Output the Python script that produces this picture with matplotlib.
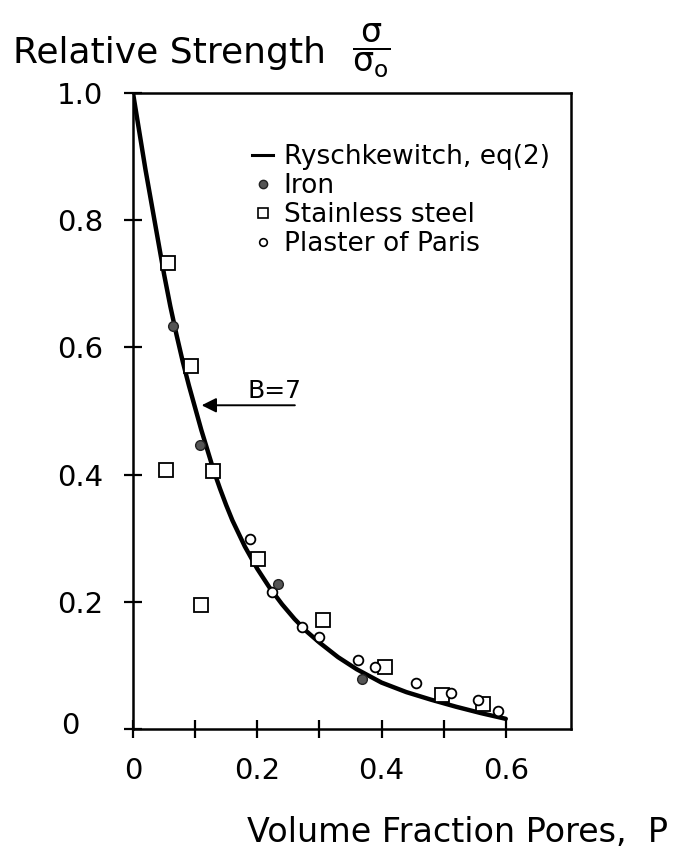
import matplotlib
matplotlib.use("Agg")
import matplotlib.pyplot as plt
from matplotlib.lines import Line2D
from matplotlib.transforms import ScaledTranslation

plt.rcParams['font.family'] = ['DejaVu Sans']

# Ryschkewitch curve (B = 7)
curve_p = [0, 0.01, 0.02, 0.03, 0.04, 0.05, 0.06, 0.07, 0.08, 0.09, 0.10, 0.11,
           0.12, 0.13, 0.14, 0.15, 0.16, 0.18, 0.20, 0.22, 0.24, 0.26, 0.28,
           0.30, 0.33, 0.36, 0.40, 0.44, 0.48, 0.52, 0.56, 0.60]
curve_s = [1.0, 0.94, 0.88, 0.825, 0.77, 0.715, 0.665, 0.62, 0.578, 0.54, 0.505,
           0.47, 0.438, 0.406, 0.378, 0.352, 0.328, 0.287, 0.252, 0.222, 0.196,
           0.173, 0.153, 0.136, 0.113, 0.094, 0.073, 0.058, 0.046, 0.035, 0.025,
           0.016]

# measured points
iron_p = [0.064, 0.108, 0.233, 0.368]
iron_s = [0.634, 0.447, 0.228, 0.079]

steel_p = [0.056, 0.093, 0.053, 0.128, 0.202, 0.109, 0.306, 0.406, 0.498, 0.563]
steel_s = [0.732, 0.571, 0.408, 0.405, 0.268, 0.195, 0.171, 0.098, 0.054, 0.040]

plaster_p = [0.188, 0.223, 0.272, 0.300, 0.362, 0.390, 0.455, 0.512, 0.555, 0.587]
plaster_s = [0.299, 0.216, 0.161, 0.144, 0.108, 0.098, 0.072, 0.056, 0.046, 0.028]

x_ticks = [0, 0.2, 0.4, 0.6]
x_labels = ["0", "0.2", "0.4", "0.6"]
x_minor = [0.1, 0.3, 0.5]
y_ticks = [0, 0.2, 0.4, 0.6, 0.8, 1.0]
y_labels = ["0", "0.2", "0.4", "0.6", "0.8", "1.0"]

legend_labels = ["Ryschkewitch, eq(2)", "Iron", "Stainless steel", "Plaster of Paris"]

fig = plt.figure(figsize=(6.83, 8.6), dpi=100)
ax = fig.add_axes([133 / 683, 131 / 860, 438 / 683, 636 / 860])

ax.plot(curve_p, curve_s, color='black', lw=3.2, solid_capstyle='round', zorder=2)
ax.plot(steel_p, steel_s, ls='none', marker='s', ms=9.5, mfc='white', mec='black',
        mew=1.3, zorder=3)
ax.plot(plaster_p, plaster_s, ls='none', marker='o', ms=7, mfc='white', mec='black',
        mew=1.3, zorder=3)
ax.plot(iron_p, iron_s, ls='none', marker='o', ms=7, mfc='#555555', mec='#222222',
        mew=1.0, zorder=4)

ax.set_xlim(0, 0.705)
ax.set_ylim(0, 1.0)
ax.set_xticks(x_ticks)
ax.set_xticklabels(x_labels)
ax.set_xticks(x_minor, minor=True)
ax.set_yticks(y_ticks)
ax.set_yticklabels(y_labels)

ax.tick_params(axis='both', which='both', direction='inout', length=13, width=1.6,
               labelsize=21, top=False, right=False)
ax.tick_params(axis='x', which='both', pad=14)
ax.tick_params(axis='y', which='both', pad=15)
for s in ax.spines.values():
    s.set_linewidth(1.8)

# the "0" on the y axis sits further left in the drawing
zero_lbl = ax.get_yticklabels()[0]
zero_lbl.set_transform(zero_lbl.get_transform()
                       + ScaledTranslation(-17 / 72, 4 / 72, fig.dpi_scale_trans))

# B = 7 arrow
ax.annotate('', xy=(0.106, 0.509), xytext=(0.265, 0.509),
            arrowprops=dict(arrowstyle='-|>', lw=1.4, color='black', mutation_scale=22))
ax.text(0.228, 0.512, "B=7", ha='center', va='bottom', fontsize=18)

handles = [
    Line2D([], [], color='black', lw=2.2),
    Line2D([], [], ls='none', marker='o', ms=6, mfc='#555555', mec='#222222'),
    Line2D([], [], ls='none', marker='s', ms=7, mfc='white', mec='black', mew=1.2),
    Line2D([], [], ls='none', marker='o', ms=5.5, mfc='white', mec='black', mew=1.2),
]
ax.legend(handles, legend_labels, loc='upper left', bbox_to_anchor=(0.272, 0.92),
          frameon=False, fontsize=19, handlelength=0.8, handletextpad=0.4,
          labelspacing=0.12, borderpad=0, borderaxespad=0)

fig.text(13 / 683, 1 - 63 / 860, "Relative Strength", fontsize=26, va='baseline', ha='left')
fig.text(352 / 683, 1 - 51 / 860, r"$\dfrac{\mathrm{\sigma}}{\mathrm{\sigma_o}}$",
         fontsize=24, va='center', ha='left')
fig.text(668 / 683, 1 - 832 / 860, "Volume Fraction Pores,  P", fontsize=24,
         va='center', ha='right')

fig.savefig("out.png", dpi=100)
